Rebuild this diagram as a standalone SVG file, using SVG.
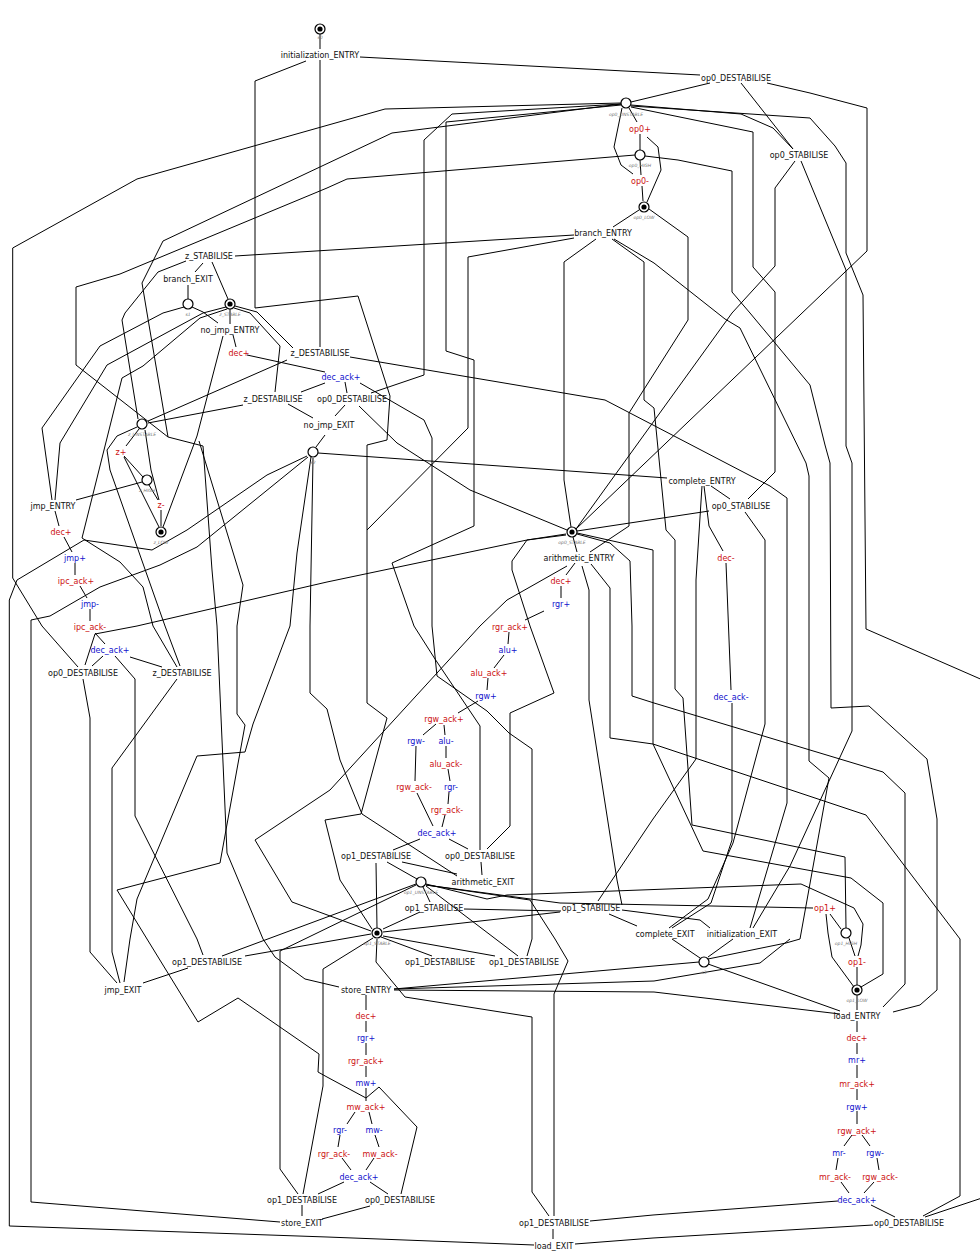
<svg xmlns="http://www.w3.org/2000/svg" width="980" height="1252" viewBox="0 0 980 1252">
<style>
.e{fill:none;stroke:#000;stroke-width:1}
text{font-family:"DejaVu Sans","Liberation Sans",sans-serif;font-size:8px;text-anchor:middle}
.k{fill:#111}
.r{fill:#cc1111}
.b{fill:#1111cc}
.pl{font-size:4.5px;font-style:italic;fill:#777}
.p{fill:#fff;stroke:#000;stroke-width:1.2}
.d{fill:#000}
</style>
<rect width="980" height="1252" fill="#fff"/>
<g id="connectors">
<polyline class="e" points="320,34 320,49"/>
<polyline class="e" points="320,60 320,347"/>
<polyline class="e" points="360,57 700,75"/>
<polyline class="e" points="306,61 255,81 255,308 358,296 390,396 387,440 367,445 367,703 387,718 361,814 325,820 340,880 372,929"/>
<polyline class="e" points="710,83 631,102"/>
<polyline class="e" points="741,83 793,149"/>
<polyline class="e" points="767,83 810,93 867,108 867,251 576,529"/>
<polyline class="e" points="631,105 741,114 773,128 793,149"/>
<polyline class="e" points="631,106 810,118 835,146 846,163 846,253 863,295 866,629 985,681"/>
<polyline class="e" points="985,1197 925,1217"/>
<polyline class="e" points="631,107 753,132 753,267 775,292 775,472 748,499"/>
<polyline class="e" points="795,161 775,188 775,266 732,313 576,529"/>
<polyline class="e" points="801,161 846,270 846,446 852,463 852,731 790,866 753,928"/>
<polyline class="e" points="621,103 385,109 137,179 12.7,248 12.7,578 42,626 78,667"/>
<polyline class="e" points="621,104 392,133 163,241 142,283 147,313 168,437 203,446 212,570 217,626 227,853 263,939 275,957 305,979 339,987"/>
<polyline class="e" points="635,155 347,179 327,188 120,274 76,287 76,365 168,437"/>
<polyline class="e" points="199,441 243,585 237,626 237,714 245,725 220,863 117,890 147,939 198,1022 238,998 319,1054 318,1072 327,1077 366,1098 379,1087 417,1127 401,1194"/>
<polyline class="e" points="621,104 452,114 424,140 424,375 371,393"/>
<polyline class="e" points="621,105 446,122 446,351 474,360 474,526 392,563 414,626 435,659 480,726 480,850"/>
<polyline class="e" points="645,156 678,160 732,171 732,292 750,313 810,385 825,445 830,463 831,708 869,706 927,759 937,819 937,990 920,1005 893,1012"/>
<polyline class="e" points="577,534 610,543 630,561 632,626 632,696 654,703 883,772 905,793 905,984 883,1007"/>
<polyline class="e" points="629,108 637,122"/>
<polyline class="e" points="640,134 640,150"/>
<polyline class="e" points="640,160 641,175"/>
<polyline class="e" points="642,186 643,201"/>
<polyline class="e" points="622,108 614,147 621,165 633,174"/>
<polyline class="e" points="647,137 658,147 661,170 647,202"/>
<polyline class="e" points="639,210 613,227"/>
<polyline class="e" points="649,209 688,237 688,320 629,413 629,526 590,552"/>
<polyline class="e" points="573,537 577,552"/>
<polyline class="e" points="574,235 235,256"/>
<polyline class="e" points="574,238 468,257 468,428 367,530"/>
<polyline class="e" points="596,239 564,262 564,480 571,527"/>
<polyline class="e" points="612,239 644,262 644,400 654,408 666,530 675,540 675,689 683,698 692,825 845,857 846,928"/>
<polyline class="e" points="614,239 654,263 725,319 740,328 806,463 809,476 809,761 829,778 800,939 786,943 708,959"/>
<polyline class="e" points="203,263 195,272"/>
<polyline class="e" points="212,262 228,299"/>
<polyline class="e" points="186,261 158,272 125,313 122,320 138,419"/>
<polyline class="e" points="188,285 188,299"/>
<polyline class="e" points="192,307 203,312 218,323"/>
<polyline class="e" points="230,309 230,324"/>
<polyline class="e" points="235,306 257,312 293,348"/>
<polyline class="e" points="234,308 250,313 280,346 275,392"/>
<polyline class="e" points="184,307 163,313 100,346 42,428 52,500"/>
<polyline class="e" points="226,307 203,313 107,365 60,443 55,500"/>
<polyline class="e" points="227,309 200,318 143,366 122,378 82,538 120,562 143,587 153,626 177,667"/>
<polyline class="e" points="148,423 243,405"/>
<polyline class="e" points="148,421 287,360"/>
<polyline class="e" points="139,429 126,446"/>
<polyline class="e" points="145,430 151,470 159,500"/>
<polyline class="e" points="137,427 117,436 107,450 110,470 165,626 180,666"/>
<polyline class="e" points="159,527 124,457"/>
<polyline class="e" points="124,456 143,477"/>
<polyline class="e" points="149,485 158,500"/>
<polyline class="e" points="161,510 161,526"/>
<polyline class="e" points="163,527 197,436 223,336"/>
<polyline class="e" points="142,482 76,500"/>
<polyline class="e" points="55,511 59,526"/>
<polyline class="e" points="64,537 72,552"/>
<polyline class="e" points="75,563 75,575"/>
<polyline class="e" points="80,586 87,598"/>
<polyline class="e" points="90,609 90,621"/>
<polyline class="e" points="95,633 105,644"/>
<polyline class="e" points="566,534 527,540 327,582 137,626 95,634 85,665"/>
<polyline class="e" points="103,656 92,666"/>
<polyline class="e" points="130,657 162,667"/>
<polyline class="e" points="115,656 135,679 135,816 197,939 203,955"/>
<polyline class="e" points="83,679 90,718 90,952 117,983"/>
<polyline class="e" points="177,679 112,768 112,952 120,983"/>
<polyline class="e" points="188,968 143,983"/>
<polyline class="e" points="316,447 325,435"/>
<polyline class="e" points="318,453 667,478"/>
<polyline class="e" points="307,456 267,475 187,530 152,550 84,540 17,580 9.3,600 9.3,1226 327,1237 534,1245"/>
<polyline class="e" points="308,457 197,547 160,565 100,587 50,616 31,620 31,1202 280,1222"/>
<polyline class="e" points="311,457 297,553 290,626 253,724 245,752 197,756 137,899 130,939 124,982"/>
<polyline class="e" points="313,458 310,626 310,693 327,709 340,760 362,814 457,876"/>
<polyline class="e" points="233,335 236,347"/>
<polyline class="e" points="247,355 325,372"/>
<polyline class="e" points="325,383 301,392"/>
<polyline class="e" points="345,382 347,393"/>
<polyline class="e" points="288,404 313,418"/>
<polyline class="e" points="345,405 335,416"/>
<polyline class="e" points="360,383 424,420 432,438 432,626 437,676 487,711 509,733 532,749 532,939 527,956"/>
<polyline class="e" points="359,406 397,443 470,490 567,530"/>
<polyline class="e" points="350,357 605,400 770,486 787,498 787,803 750,928"/>
<polyline class="e" points="702,486 696,580 696,759 653,819 598,901"/>
<polyline class="e" points="704,486 709,526 723,551"/>
<polyline class="e" points="711,486 730,499"/>
<polyline class="e" points="577,531 709,511"/>
<polyline class="e" points="726,563 731,690"/>
<polyline class="e" points="732,703 732,840 711,903 672,928"/>
<polyline class="e" points="745,512 765,540 765,724 733,843 708,899 669,928"/>
<polyline class="e" points="577,533 653,550 653,744 703,851 851,878 883,903 883,974 861,987"/>
<polyline class="e" points="591,564 610,588 610,738 653,744 866,815 960,939 960,1196 923,1216"/>
<polyline class="e" points="575,563 566,575"/>
<polyline class="e" points="561,586 561,598"/>
<polyline class="e" points="544,611 525,620"/>
<polyline class="e" points="509,632 508,644"/>
<polyline class="e" points="504,655 494,668"/>
<polyline class="e" points="488,678 487,690"/>
<polyline class="e" points="478,701 458,713"/>
<polyline class="e" points="436,724 423,735"/>
<polyline class="e" points="444,725 445,735"/>
<polyline class="e" points="416,746 415,781"/>
<polyline class="e" points="446,746 446,758"/>
<polyline class="e" points="448,769 450,781"/>
<polyline class="e" points="449,792 448,804"/>
<polyline class="e" points="417,793 433,826"/>
<polyline class="e" points="445,815 442,827"/>
<polyline class="e" points="420,839 393,850"/>
<polyline class="e" points="449,839 468,849"/>
<polyline class="e" points="402,862 457,874"/>
<polyline class="e" points="481,862 482,875"/>
<polyline class="e" points="387,862 417,879"/>
<polyline class="e" points="376,863 377,928"/>
<polyline class="e" points="566,535 527,540 512,561 512,570 530,626 554,693 510,713 510,826 487,849"/>
<polyline class="e" points="567,566 507,600 480,626 330,790 255,840 292,902 371,931"/>
<polyline class="e" points="582,566 589,590 589,700 617,880 622,905"/>
<polyline class="e" points="426,885 560,903 813,908"/>
<polyline class="e" points="426,884 487,899 507,895 801,884 854,908 863,924 861,945 858,956"/>
<polyline class="e" points="830,914 841,929"/>
<polyline class="e" points="826,914 828,933 832,957 854,987"/>
<polyline class="e" points="849,938 855,956"/>
<polyline class="e" points="857,967 857,985"/>
<polyline class="e" points="857,995 857,1010"/>
<polyline class="e" points="708,964 840,1011"/>
<polyline class="e" points="672,939 700,958"/>
<polyline class="e" points="733,939 708,957"/>
<polyline class="e" points="394,989 654,966 699,962"/>
<polyline class="e" points="394,989 654,981 760,963 790,939"/>
<polyline class="e" points="394,990 654,992 840,1014"/>
<polyline class="e" points="423,887 430,902"/>
<polyline class="e" points="420,912 383,929"/>
<polyline class="e" points="464,909 561,911"/>
<polyline class="e" points="560,912 383,932"/>
<polyline class="e" points="416,884 222,956"/>
<polyline class="e" points="371,934 245,956"/>
<polyline class="e" points="381,937 432,956"/>
<polyline class="e" points="383,936 495,956"/>
<polyline class="e" points="426,886 518,956"/>
<polyline class="e" points="426,885 530,900 555,939 568,961 554,994 554,1216"/>
<polyline class="e" points="377,939 376,962 405,997 532,1017 532,1192 549,1216"/>
<polyline class="e" points="373,938 323,969 323,1086 303,1194"/>
<polyline class="e" points="416,885 280,951 280,1169 298,1194"/>
<polyline class="e" points="609,914 637,926"/>
<polyline class="e" points="622,910 700,920 710,928"/>
<polyline class="e" points="366,995 366,1010"/>
<polyline class="e" points="366,1021 366,1032"/>
<polyline class="e" points="366,1043 366,1055"/>
<polyline class="e" points="366,1066 366,1077"/>
<polyline class="e" points="366,1088 366,1101"/>
<polyline class="e" points="355,1112 347,1124"/>
<polyline class="e" points="369,1112 372,1124"/>
<polyline class="e" points="340,1135 338,1147"/>
<polyline class="e" points="375,1135 379,1147"/>
<polyline class="e" points="342,1158 351,1170"/>
<polyline class="e" points="374,1158 366,1170"/>
<polyline class="e" points="344,1182 318,1194"/>
<polyline class="e" points="370,1182 388,1194"/>
<polyline class="e" points="302,1205 302,1216"/>
<polyline class="e" points="370,1206 322,1219"/>
<polyline class="e" points="857,1021 857,1032"/>
<polyline class="e" points="857,1043 857,1054"/>
<polyline class="e" points="857,1065 857,1078"/>
<polyline class="e" points="857,1089 857,1100"/>
<polyline class="e" points="857,1111 857,1124"/>
<polyline class="e" points="852,1135 844,1146"/>
<polyline class="e" points="862,1135 870,1146"/>
<polyline class="e" points="838,1158 836,1170"/>
<polyline class="e" points="877,1158 879,1170"/>
<polyline class="e" points="841,1182 849,1193"/>
<polyline class="e" points="874,1182 864,1193"/>
<polyline class="e" points="871,1205 895,1217"/>
<polyline class="e" points="838,1201 653,1215 590,1221"/>
<polyline class="e" points="553,1229 553,1239"/>
<polyline class="e" points="873,1225 653,1238 575,1244"/>
</g>
<g id="places">
<g id="s0"><circle class="p" cx="320" cy="29" r="5"/><circle class="d" cx="320" cy="29" r="2.6"/><text class="pl" x="320" y="39">s0</text></g>
<g id="op0_UNSTABLE"><circle class="p" cx="626" cy="103" r="5"/><text class="pl" x="626" y="116">op0_UNSTABLE</text></g>
<g id="op0_HIGH"><circle class="p" cx="640" cy="155" r="5"/><text class="pl" x="640" y="167">op0_HIGH</text></g>
<g id="op0_LOW"><circle class="p" cx="644" cy="207" r="5"/><circle class="d" cx="644" cy="207" r="2.6"/><text class="pl" x="644" y="219">op0_LOW</text></g>
<g id="s1"><circle class="p" cx="188" cy="304" r="5"/><text class="pl" x="188" y="316">s1</text></g>
<g id="z_STABLE"><circle class="p" cx="230" cy="304" r="5"/><circle class="d" cx="230" cy="304" r="2.6"/><text class="pl" x="230" y="316">z_STABLE</text></g>
<g id="z_UNSTABLE"><circle class="p" cx="142" cy="424" r="5"/><text class="pl" x="142" y="436">z_UNSTABLE</text></g>
<g id="z_HIGH"><circle class="p" cx="147" cy="480" r="5"/><text class="pl" x="147" y="492">z_HIGH</text></g>
<g id="z_LOW"><circle class="p" cx="161" cy="532" r="5"/><circle class="d" cx="161" cy="532" r="2.6"/><text class="pl" x="161" y="544">z_LOW</text></g>
<g id="s2"><circle class="p" cx="313" cy="452" r="5"/><text class="pl" x="313" y="464">s2</text></g>
<g id="op0_STABLE"><circle class="p" cx="572" cy="532" r="5"/><circle class="d" cx="572" cy="532" r="2.6"/><text class="pl" x="572" y="544">op0_STABLE</text></g>
<g id="op1_UNSTABLE"><circle class="p" cx="421" cy="882" r="5"/><text class="pl" x="421" y="894">op1_UNSTABLE</text></g>
<g id="op1_STABLE"><circle class="p" cx="377" cy="933" r="5"/><circle class="d" cx="377" cy="933" r="2.6"/><text class="pl" x="377" y="945">op1_STABLE</text></g>
<g id="op1_HIGH"><circle class="p" cx="846" cy="933" r="5"/><text class="pl" x="846" y="945">op1_HIGH</text></g>
<g id="op1_LOW"><circle class="p" cx="857" cy="990" r="5"/><circle class="d" cx="857" cy="990" r="2.6"/><text class="pl" x="857" y="1002">op1_LOW</text></g>
<g id="s3"><circle class="p" cx="704" cy="962" r="5"/><text class="pl" x="704" y="974">s3</text></g>
</g>
<g id="transitions">
<text id="t_init_entry" class="k" x="320" y="58">initialization_ENTRY</text>
<text id="t_op0d_1" class="k" x="736" y="81">op0_DESTABILISE</text>
<text id="t_op0p" class="r" x="640" y="132">op0+</text>
<text id="t_op0s_1" class="k" x="799" y="158">op0_STABILISE</text>
<text id="t_op0m" class="r" x="640" y="184">op0-</text>
<text id="t_branch_entry" class="k" x="603" y="236">branch_ENTRY</text>
<text id="t_zs" class="k" x="209" y="259">z_STABILISE</text>
<text id="t_branch_exit" class="k" x="188" y="282">branch_EXIT</text>
<text id="t_nojmp_entry" class="k" x="230" y="333">no_jmp_ENTRY</text>
<text id="t_dec_1" class="r" x="239" y="356">dec+</text>
<text id="t_zd_1" class="k" x="320" y="356">z_DESTABILISE</text>
<text id="t_decack_1" class="b" x="341" y="380">dec_ack+</text>
<text id="t_zd_2" class="k" x="273" y="402">z_DESTABILISE</text>
<text id="t_op0d_2" class="k" x="352" y="402">op0_DESTABILISE</text>
<text id="t_nojmp_exit" class="k" x="329" y="428">no_jmp_EXIT</text>
<text id="t_zp" class="r" x="121" y="455">z+</text>
<text id="t_complete_entry" class="k" x="702" y="484">complete_ENTRY</text>
<text id="t_zm" class="r" x="161" y="508">z-</text>
<text id="t_jmp_entry" class="k" x="53" y="509">jmp_ENTRY</text>
<text id="t_op0s_2" class="k" x="741" y="509">op0_STABILISE</text>
<text id="t_dec_2" class="r" x="61" y="535">dec+</text>
<text id="t_decm" class="r" x="726" y="561">dec-</text>
<text id="t_arith_entry" class="k" x="579" y="561">arithmetic_ENTRY</text>
<text id="t_jmpp" class="b" x="75" y="561">jmp+</text>
<text id="t_ipcp" class="r" x="76" y="584">ipc_ack+</text>
<text id="t_dec_3" class="r" x="561" y="584">dec+</text>
<text id="t_rgr_1" class="b" x="561" y="607">rgr+</text>
<text id="t_jmpm" class="b" x="90" y="607">jmp-</text>
<text id="t_ipcm" class="r" x="90" y="630">ipc_ack-</text>
<text id="t_rgrack_1" class="r" x="510" y="630">rgr_ack+</text>
<text id="t_decack_2" class="b" x="110" y="653">dec_ack+</text>
<text id="t_alup" class="b" x="508" y="653">alu+</text>
<text id="t_op0d_3" class="k" x="83" y="676">op0_DESTABILISE</text>
<text id="t_zd_3" class="k" x="182" y="676">z_DESTABILISE</text>
<text id="t_aluackp" class="r" x="489" y="676">alu_ack+</text>
<text id="t_decackm" class="b" x="731" y="700">dec_ack-</text>
<text id="t_rgwp_1" class="b" x="486" y="699">rgw+</text>
<text id="t_rgwackp_1" class="r" x="444" y="722">rgw_ack+</text>
<text id="t_rgwm_1" class="b" x="416" y="744">rgw-</text>
<text id="t_alum" class="b" x="446" y="744">alu-</text>
<text id="t_aluackm" class="r" x="446" y="767">alu_ack-</text>
<text id="t_rgwackm_1" class="r" x="414" y="790">rgw_ack-</text>
<text id="t_rgrm_1" class="b" x="451" y="790">rgr-</text>
<text id="t_rgrackm_1" class="r" x="447" y="813">rgr_ack-</text>
<text id="t_decack_3" class="b" x="437" y="836">dec_ack+</text>
<text id="t_op1d_1" class="k" x="376" y="859">op1_DESTABILISE</text>
<text id="t_op0d_4" class="k" x="480" y="859">op0_DESTABILISE</text>
<text id="t_arith_exit" class="k" x="483" y="885">arithmetic_EXIT</text>
<text id="t_op1s_1" class="k" x="434" y="911">op1_STABILISE</text>
<text id="t_op1s_2" class="k" x="591" y="911">op1_STABILISE</text>
<text id="t_op1p" class="r" x="825" y="911">op1+</text>
<text id="t_complete_exit" class="k" x="665" y="937">complete_EXIT</text>
<text id="t_init_exit" class="k" x="742" y="937">initialization_EXIT</text>
<text id="t_op1d_2" class="k" x="207" y="965">op1_DESTABILISE</text>
<text id="t_op1d_3" class="k" x="440" y="965">op1_DESTABILISE</text>
<text id="t_op1d_4" class="k" x="524" y="965">op1_DESTABILISE</text>
<text id="t_op1m" class="r" x="857" y="965">op1-</text>
<text id="t_jmp_exit" class="k" x="123" y="993">jmp_EXIT</text>
<text id="t_store_entry" class="k" x="366" y="993">store_ENTRY</text>
<text id="t_load_entry" class="k" x="857" y="1019">load_ENTRY</text>
<text id="t_dec_4" class="r" x="366" y="1019">dec+</text>
<text id="t_dec_5" class="r" x="857" y="1041">dec+</text>
<text id="t_rgr_2" class="b" x="366" y="1041">rgr+</text>
<text id="t_mrp" class="b" x="857" y="1063">mr+</text>
<text id="t_rgrack_2" class="r" x="366" y="1064">rgr_ack+</text>
<text id="t_mwp" class="b" x="366" y="1086">mw+</text>
<text id="t_mrackp" class="r" x="857" y="1087">mr_ack+</text>
<text id="t_mwackp" class="r" x="366" y="1110">mw_ack+</text>
<text id="t_rgwp_2" class="b" x="857" y="1110">rgw+</text>
<text id="t_rgrm_2" class="b" x="340" y="1133">rgr-</text>
<text id="t_mwm" class="b" x="374" y="1133">mw-</text>
<text id="t_rgwackp_2" class="r" x="857" y="1134">rgw_ack+</text>
<text id="t_rgrackm_2" class="r" x="334" y="1157">rgr_ack-</text>
<text id="t_mwackm" class="r" x="380" y="1157">mw_ack-</text>
<text id="t_mrm" class="b" x="839" y="1156">mr-</text>
<text id="t_rgwm_2" class="b" x="875" y="1156">rgw-</text>
<text id="t_decack_4" class="b" x="359" y="1180">dec_ack+</text>
<text id="t_mrackm" class="r" x="835" y="1180">mr_ack-</text>
<text id="t_rgwackm_2" class="r" x="880" y="1180">rgw_ack-</text>
<text id="t_op1d_5" class="k" x="302" y="1203">op1_DESTABILISE</text>
<text id="t_op0d_5" class="k" x="400" y="1203">op0_DESTABILISE</text>
<text id="t_decack_5" class="b" x="857" y="1203">dec_ack+</text>
<text id="t_store_exit" class="k" x="302" y="1226">store_EXIT</text>
<text id="t_op1d_6" class="k" x="554" y="1226">op1_DESTABILISE</text>
<text id="t_op0d_6" class="k" x="909" y="1226">op0_DESTABILISE</text>
<text id="t_load_exit" class="k" x="554" y="1249">load_EXIT</text>
</g>
</svg>
